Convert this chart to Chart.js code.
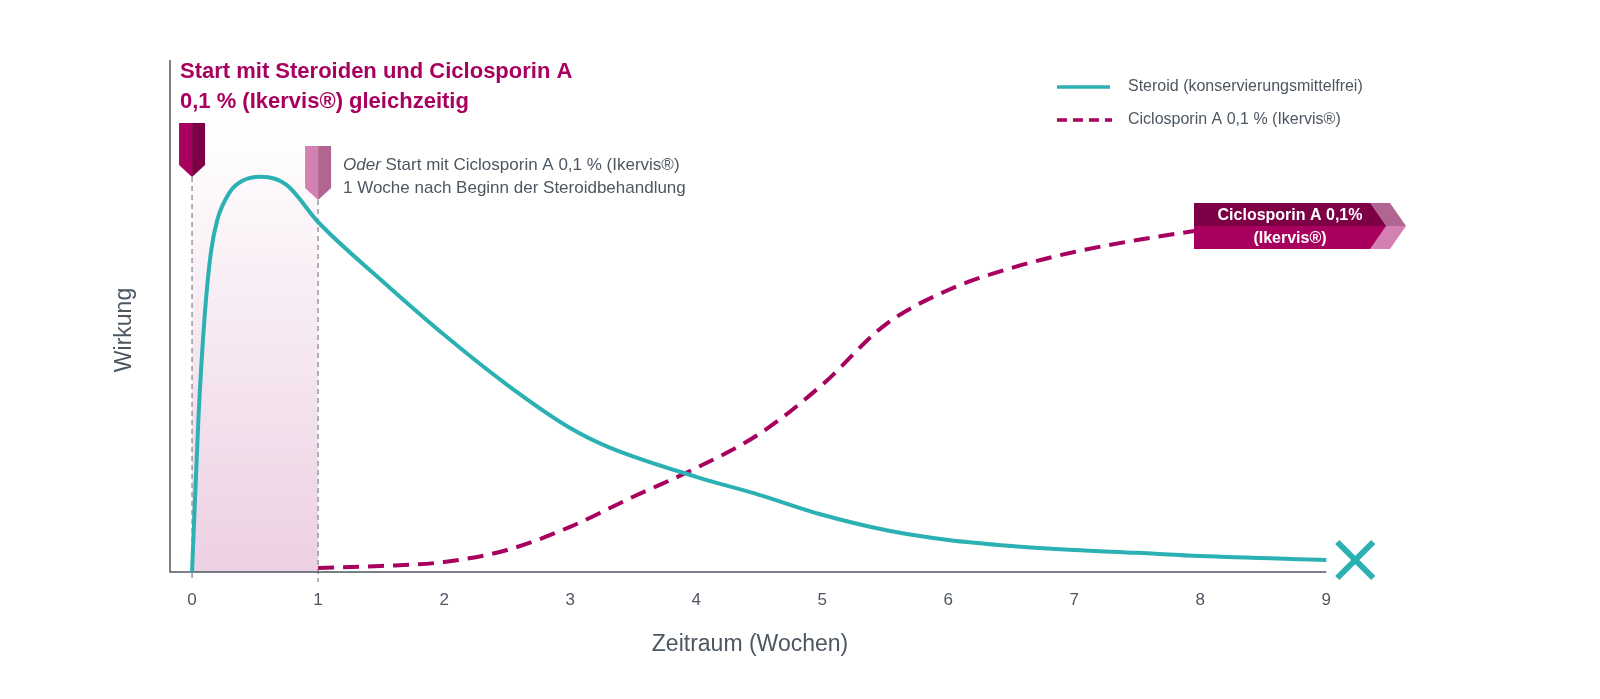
<!DOCTYPE html>
<html>
<head>
<meta charset="utf-8">
<script src="https://cdn.jsdelivr.net/npm/chart.js@4/dist/chart.umd.min.js"></script>
<style>
  html, body { margin: 0; background: #fff; }
  #wrap { width: 1600px; height: 699px; }
</style>
</head>
<body>
<div id="wrap"><canvas id="c" width="1600" height="699"></canvas></div>
<script>
// values (y in relative "Wirkung" units, 0..128)
const steroidWeeks = [0, 0.05, 0.1, 0.15, 0.2, 0.3, 0.4, 0.55, 0.75, 1, 1.5, 2, 2.5, 3, 3.3, 4, 4.5, 5, 5.5, 6, 6.5, 7, 7.5, 8, 9];
const steroidValues = [0, 38, 64, 80, 88, 95, 97.8, 98.8, 96.8, 87.5, 73, 59.3, 46.8, 36, 31.3, 23.8, 19.3, 14.3, 10.5, 8, 6.5, 5.5, 4.8, 4, 3];
const cicloWeeks = [1, 1.5, 2, 2.5, 3, 3.5, 4, 4.5, 5, 5.5, 6, 6.5, 7, 7.5, 8];
const cicloValues = [1, 1.5, 2.5, 5.5, 11.3, 18.8, 26, 34.5, 46.8, 61.8, 70.5, 76, 80, 83, 85.5];
const xTicks = [0, 1, 2, 3, 4, 5, 6, 7, 8, 9];
const legendLabels = ["Steroid (konservierungsmittelfrei)", "Ciclosporin A 0,1 % (Ikervis®)"];

const TEAL = "#2bb1b3";
const MAGENTA = "#a8005f";
const DARK = "#7d0047";
const GREY = "#4d5762";

const toXY = (xs, ys) => xs.map((x, i) => ({ x, y: ys[i] }));

function marker(ctx, x, top, left, right) {
  const w = 26, h = 54, half = w / 2;
  ctx.fillStyle = left;
  ctx.beginPath();
  ctx.moveTo(x - half, top); ctx.lineTo(x, top); ctx.lineTo(x, top + h);
  ctx.lineTo(x - half, top + h - 12); ctx.closePath(); ctx.fill();
  ctx.fillStyle = right;
  ctx.beginPath();
  ctx.moveTo(x, top); ctx.lineTo(x + half, top); ctx.lineTo(x + half, top + h - 12);
  ctx.lineTo(x, top + h); ctx.closePath(); ctx.fill();
}

const decor = {
  id: "decor",
  beforeDatasetsDraw(chart) {
    const { ctx, scales: { x, y } } = chart;
    const x0 = x.getPixelForValue(0), x1 = x.getPixelForValue(1), yb = y.getPixelForValue(0);
    const g = ctx.createLinearGradient(0, 125, 0, yb);
    g.addColorStop(0, "rgba(236,208,227,0)");
    g.addColorStop(1, "rgba(236,208,227,1)");
    ctx.save();
    ctx.fillStyle = g;
    ctx.fillRect(x0, 125, x1 - x0, yb - 125);
    ctx.strokeStyle = "#9a9a9a";
    ctx.lineWidth = 1.5;
    ctx.setLineDash([5, 4]);
    [[x0, 177], [x1, 200]].forEach(([px, t]) => {
      ctx.beginPath(); ctx.moveTo(px, t); ctx.lineTo(px, yb + 10); ctx.stroke();
    });
    ctx.setLineDash([]);
    // axes
    ctx.strokeStyle = GREY;
    ctx.lineWidth = 1.5;
    ctx.beginPath();
    ctx.moveTo(chart.chartArea.left, 60); ctx.lineTo(chart.chartArea.left, yb);
    ctx.lineTo(x.getPixelForValue(9), yb); ctx.stroke();
    ctx.restore();
  },
  afterDatasetsDraw(chart) {
    const { ctx, scales: { x, y } } = chart;
    const yb = y.getPixelForValue(0);
    ctx.save();
    marker(ctx, x.getPixelForValue(0), 123, MAGENTA, DARK);
    marker(ctx, x.getPixelForValue(1), 146, "#d580b3", "#b06690");

    ctx.fillStyle = GREY;
    ctx.font = "17px 'Liberation Sans', Arial, sans-serif";
    ctx.textAlign = "center"; ctx.textBaseline = "top";
    xTicks.forEach(t => ctx.fillText(String(t), x.getPixelForValue(t), yb + 20));

    ctx.font = "23px 'Liberation Sans', Arial, sans-serif";
    ctx.textBaseline = "middle";
    ctx.fillText("Zeitraum (Wochen)", 750, 645);
    ctx.save();
    ctx.translate(125, 330); ctx.rotate(-Math.PI / 2);
    ctx.fillText("Wirkung", 0, 0);
    ctx.restore();

    // title
    ctx.textAlign = "left";
    ctx.fillStyle = MAGENTA;
    ctx.font = "bold 22px 'Liberation Sans', Arial, sans-serif";
    ctx.fillText("Start mit Steroiden und Ciclosporin A", 180, 72);
    ctx.fillText("0,1 % (Ikervis®) gleichzeitig", 180, 102);

    // annotation
    ctx.fillStyle = GREY;
    ctx.font = "italic 17px 'Liberation Sans', Arial, sans-serif";
    ctx.fillText("Oder", 343, 165);
    const ow = ctx.measureText("Oder ").width;
    ctx.font = "17px 'Liberation Sans', Arial, sans-serif";
    ctx.fillText("Start mit Ciclosporin A 0,1 % (Ikervis®)", 343 + ow, 165);
    ctx.fillText("1 Woche nach Beginn der Steroidbehandlung", 343, 188);

    // legend
    ctx.lineWidth = 3.5;
    ctx.strokeStyle = TEAL;
    ctx.beginPath(); ctx.moveTo(1057, 87); ctx.lineTo(1110, 87); ctx.stroke();
    ctx.strokeStyle = MAGENTA;
    ctx.setLineDash([10, 6]);
    ctx.beginPath(); ctx.moveTo(1057, 120); ctx.lineTo(1112, 120); ctx.stroke();
    ctx.setLineDash([]);
    ctx.fillStyle = GREY;
    ctx.font = "16px 'Liberation Sans', Arial, sans-serif";
    ctx.fillText(legendLabels[0], 1128, 87);
    ctx.fillText(legendLabels[1], 1128, 120);

    // end banner
    const bx = 1194, by = 203, bw = 176, bh = 46;
    ctx.fillStyle = "#b06690";
    ctx.beginPath(); ctx.moveTo(bx + bw - 10, by); ctx.lineTo(bx + bw + 20, by);
    ctx.lineTo(bx + bw + 36, by + bh / 2); ctx.lineTo(bx + bw + 20, by + bh / 2);
    ctx.lineTo(bx + bw - 10, by + bh / 2); ctx.closePath(); ctx.fill();
    ctx.fillStyle = "#d580b3";
    ctx.beginPath(); ctx.moveTo(bx + bw - 10, by + bh / 2); ctx.lineTo(bx + bw + 36, by + bh / 2);
    ctx.lineTo(bx + bw + 20, by + bh); ctx.lineTo(bx + bw - 10, by + bh); ctx.closePath(); ctx.fill();
    ctx.fillStyle = DARK;
    ctx.beginPath(); ctx.moveTo(bx, by); ctx.lineTo(bx + bw, by); ctx.lineTo(bx + bw + 16, by + bh / 2);
    ctx.lineTo(bx, by + bh / 2); ctx.closePath(); ctx.fill();
    ctx.fillStyle = MAGENTA;
    ctx.beginPath(); ctx.moveTo(bx, by + bh / 2); ctx.lineTo(bx + bw + 16, by + bh / 2);
    ctx.lineTo(bx + bw, by + bh); ctx.lineTo(bx, by + bh); ctx.closePath(); ctx.fill();
    ctx.fillStyle = "#fff";
    ctx.textAlign = "center";
    ctx.font = "bold 16px 'Liberation Sans', Arial, sans-serif";
    ctx.fillText("Ciclosporin A 0,1%", bx + 96, by + 13);
    ctx.fillText("(Ikervis®)", bx + 96, by + 36);

    // end cross
    const cx = x.getPixelForValue(9.23), cy = 560, s = 18;
    ctx.strokeStyle = TEAL; ctx.lineWidth = 6;
    ctx.beginPath();
    ctx.moveTo(cx - s, cy - s); ctx.lineTo(cx + s, cy + s);
    ctx.moveTo(cx + s, cy - s); ctx.lineTo(cx - s, cy + s);
    ctx.stroke();
    ctx.restore();
  }
};

new Chart(document.getElementById("c").getContext("2d"), {
  type: "line",
  data: {
    datasets: [
      {
        label: legendLabels[0],
        data: toXY(steroidWeeks, steroidValues),
        borderColor: TEAL, borderWidth: 4, pointRadius: 0,
        cubicInterpolationMode: "monotone", fill: false,
      },
      {
        label: legendLabels[1],
        data: toXY(cicloWeeks, cicloValues),
        borderColor: MAGENTA, borderWidth: 4, borderDash: [16, 9], pointRadius: 0,
        cubicInterpolationMode: "monotone", fill: false,
      },
    ],
  },
  options: {
    responsive: false,
    animation: false,
    layout: { padding: { left: 170, right: 217, top: 60, bottom: 127 } },
    scales: {
      x: { type: "linear", min: -0.175, max: 9.45, display: false },
      y: { min: 0, max: 128, display: false },
    },
    plugins: { legend: { display: false }, tooltip: { enabled: false } },
  },
  plugins: [decor],
});
</script>
</body>
</html>
